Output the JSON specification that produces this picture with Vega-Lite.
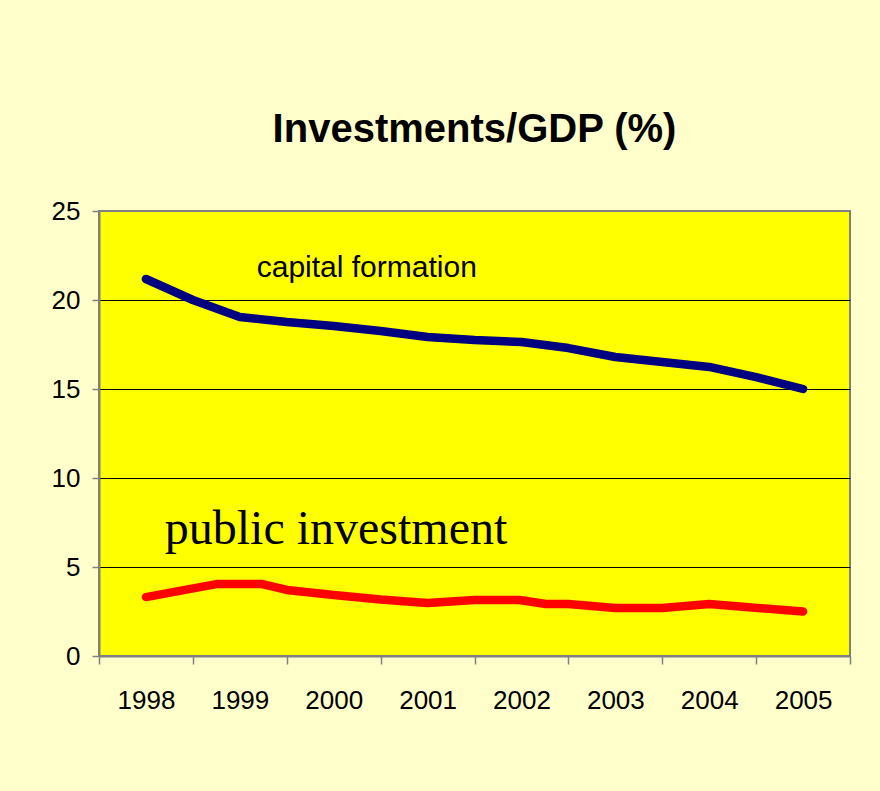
{
  "$schema": "https://vega.github.io/schema/vega-lite/v6.json",
  "width": 751,
  "height": 445,
  "autosize": {"type": "none"},
  "padding": {"left": 99, "top": 211, "right": 30, "bottom": 135},
  "background": "#FFFFCC",
  "title": {
    "text": "Investments/GDP (%)",
    "font": "Liberation Sans, Arial, sans-serif",
    "fontSize": 40,
    "fontWeight": "bold",
    "color": "#000000",
    "anchor": "middle",
    "frame": "group",
    "baseline": "alphabetic",
    "offset": 16
  },
  "config": {
    "view": {"fill": "#FFFF00", "stroke": "#808080", "strokeWidth": 2},
    "axis": {
      "labelFont": "Liberation Sans, Arial, sans-serif",
      "labelColor": "#000000",
      "labelFontSize": 26,
      "domainColor": "#808080",
      "domainWidth": 2,
      "tickColor": "#808080",
      "tickWidth": 1.5,
      "title": null
    }
  },
  "datasets": {
    "lines": [
      {"series": "capital formation", "year": 1998.0, "value": 21.18},
      {"series": "capital formation", "year": 1998.5, "value": 20.0},
      {"series": "capital formation", "year": 1999.0, "value": 19.04},
      {"series": "capital formation", "year": 1999.5, "value": 18.76},
      {"series": "capital formation", "year": 2000.0, "value": 18.54},
      {"series": "capital formation", "year": 2000.5, "value": 18.26},
      {"series": "capital formation", "year": 2001.0, "value": 17.92},
      {"series": "capital formation", "year": 2001.5, "value": 17.75},
      {"series": "capital formation", "year": 2002.0, "value": 17.64},
      {"series": "capital formation", "year": 2002.5, "value": 17.3},
      {"series": "capital formation", "year": 2003.0, "value": 16.8},
      {"series": "capital formation", "year": 2003.5, "value": 16.52},
      {"series": "capital formation", "year": 2004.0, "value": 16.24},
      {"series": "capital formation", "year": 2004.5, "value": 15.67},
      {"series": "capital formation", "year": 2005.0, "value": 15.0},
      {"series": "public investment", "year": 1998.0, "value": 3.31},
      {"series": "public investment", "year": 1998.46, "value": 3.76},
      {"series": "public investment", "year": 1998.75, "value": 4.04},
      {"series": "public investment", "year": 1999.24, "value": 4.04},
      {"series": "public investment", "year": 1999.5, "value": 3.71},
      {"series": "public investment", "year": 2000.0, "value": 3.43},
      {"series": "public investment", "year": 2000.5, "value": 3.17},
      {"series": "public investment", "year": 2001.0, "value": 2.98},
      {"series": "public investment", "year": 2001.5, "value": 3.15},
      {"series": "public investment", "year": 2001.98, "value": 3.15},
      {"series": "public investment", "year": 2002.26, "value": 2.92},
      {"series": "public investment", "year": 2002.5, "value": 2.92},
      {"series": "public investment", "year": 2003.0, "value": 2.7},
      {"series": "public investment", "year": 2003.5, "value": 2.7},
      {"series": "public investment", "year": 2004.0, "value": 2.92},
      {"series": "public investment", "year": 2005.0, "value": 2.5}
    ]
  },
  "layer": [
    {
      "data": {"name": "lines"},
      "mark": {"type": "line", "strokeWidth": 8.5, "strokeCap": "round", "strokeJoin": "round"},
      "encoding": {
        "x": {
          "field": "year",
          "type": "quantitative",
          "scale": {"domain": [1997.5, 2005.5], "nice": false, "zero": false},
          "axis": {
            "values": [1997.5, 1998.5, 1999.5, 2000.5, 2001.5, 2002.5, 2003.5, 2004.5, 2005.5],
            "labelExpr": "datum.value < 2005 ? format(datum.value + 0.5, 'd') : ''",
            "labelOffset": 47,
            "tickSize": 8,
            "labelPadding": 23,
            "grid": false,
            "labelOverlap": false,
            "labelBound": false,
            "labelFlush": false
          }
        },
        "y": {
          "field": "value",
          "type": "quantitative",
          "scale": {"domain": [0, 25], "nice": false},
          "axis": {
            "values": [0, 5, 10, 15, 20, 25],
            "tickSize": 7,
            "labelPadding": 12,
            "grid": true,
            "gridColor": {"condition": {"test": "datum.value == 0 || datum.value == 25", "value": "#808080"}, "value": "#000000"},
            "gridWidth": 1.2,
            "labelOverlap": false,
            "labelBound": false,
            "labelFlush": false
          }
        },
        "color": {
          "field": "series",
          "type": "nominal",
          "scale": {"domain": ["capital formation", "public investment"], "range": ["#000080", "#FF0000"]},
          "legend": null
        }
      }
    },
    {
      "data": {"values": [{"label": "capital formation", "year": 1999.18, "value": 21.3}]},
      "mark": {"type": "text", "font": "Liberation Sans, Arial, sans-serif", "fontSize": 30, "align": "left", "baseline": "alphabetic", "color": "#000000"},
      "encoding": {
        "x": {"field": "year", "type": "quantitative"},
        "y": {"field": "value", "type": "quantitative"},
        "text": {"field": "label"}
      }
    },
    {
      "data": {"values": [{"label": "public investment", "year": 1998.2, "value": 6.29}]},
      "mark": {"type": "text", "font": "Liberation Serif, Times New Roman, serif", "fontSize": 48, "align": "left", "baseline": "alphabetic", "color": "#000000"},
      "encoding": {
        "x": {"field": "year", "type": "quantitative"},
        "y": {"field": "value", "type": "quantitative"},
        "text": {"field": "label"}
      }
    }
  ]
}
